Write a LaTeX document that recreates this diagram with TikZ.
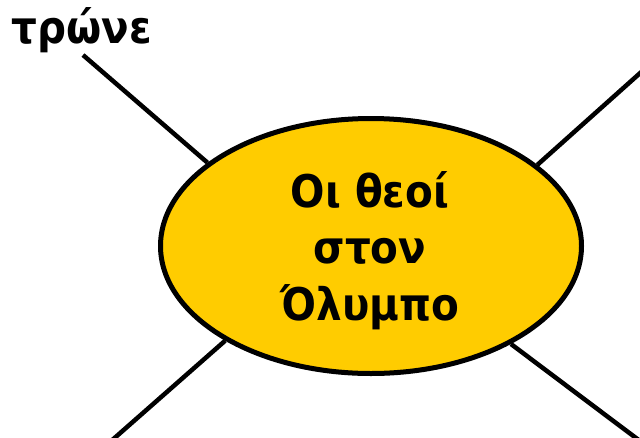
\documentclass[tikz,border=0pt]{standalone}
\usepackage{fontspec}
\setmainfont{DejaVu Sans}
\newfontfamily\condfont{DejaVu Sans Condensed}
\usetikzlibrary{shapes.geometric}
\definecolor{gold}{HTML}{FFCC00}
\tikzset{
  bubble/.style={ellipse, draw=black, line width=5pt, fill=gold, minimum width=421pt, minimum height=255pt, inner sep=0pt, align=center, font=\condfont\fontsize{45}{57}\selectfont\bfseries},
  spoke/.style={draw=black, line width=4.5pt},
  lbl/.style={font=\condfont\fontsize{45}{50}\selectfont\bfseries, inner sep=0pt}
}
\begin{document}
\begin{tikzpicture}[x=1pt,y=-1pt]
\useasboundingbox (0,0) rectangle (640,437);
\clip (0,0) rectangle (640,437);
\coordinate (tl) at (83,55);
\coordinate (tr) at (648,66);
\coordinate (bl) at (110,442);
\coordinate (br) at (640,441);
\node[bubble] (main) at (371,246) {};
\node[font=\condfont\fontsize{45}{57}\selectfont\bfseries, align=center, inner sep=0pt, anchor=base] (t1) at (370,207) {Οι θεοί};
\node[font=\condfont\fontsize{45}{57}\selectfont\bfseries, align=center, inner sep=0pt, anchor=base] (t2) at (370,263) {στον};
\node[font=\condfont\fontsize{45}{57}\selectfont\bfseries, align=center, inner sep=0pt, anchor=base] (t3) at (370,320) {Όλυμπο};
\draw[spoke] (tl) -- (main.153);
\draw[spoke] (tr) -- (main.26);
\draw[spoke] (bl) -- (main.213);
\draw[spoke] (br) -- (main.325);
\node[lbl, anchor=base] (eat) at (82,43) {τρώνε};
\end{tikzpicture}
\end{document}
